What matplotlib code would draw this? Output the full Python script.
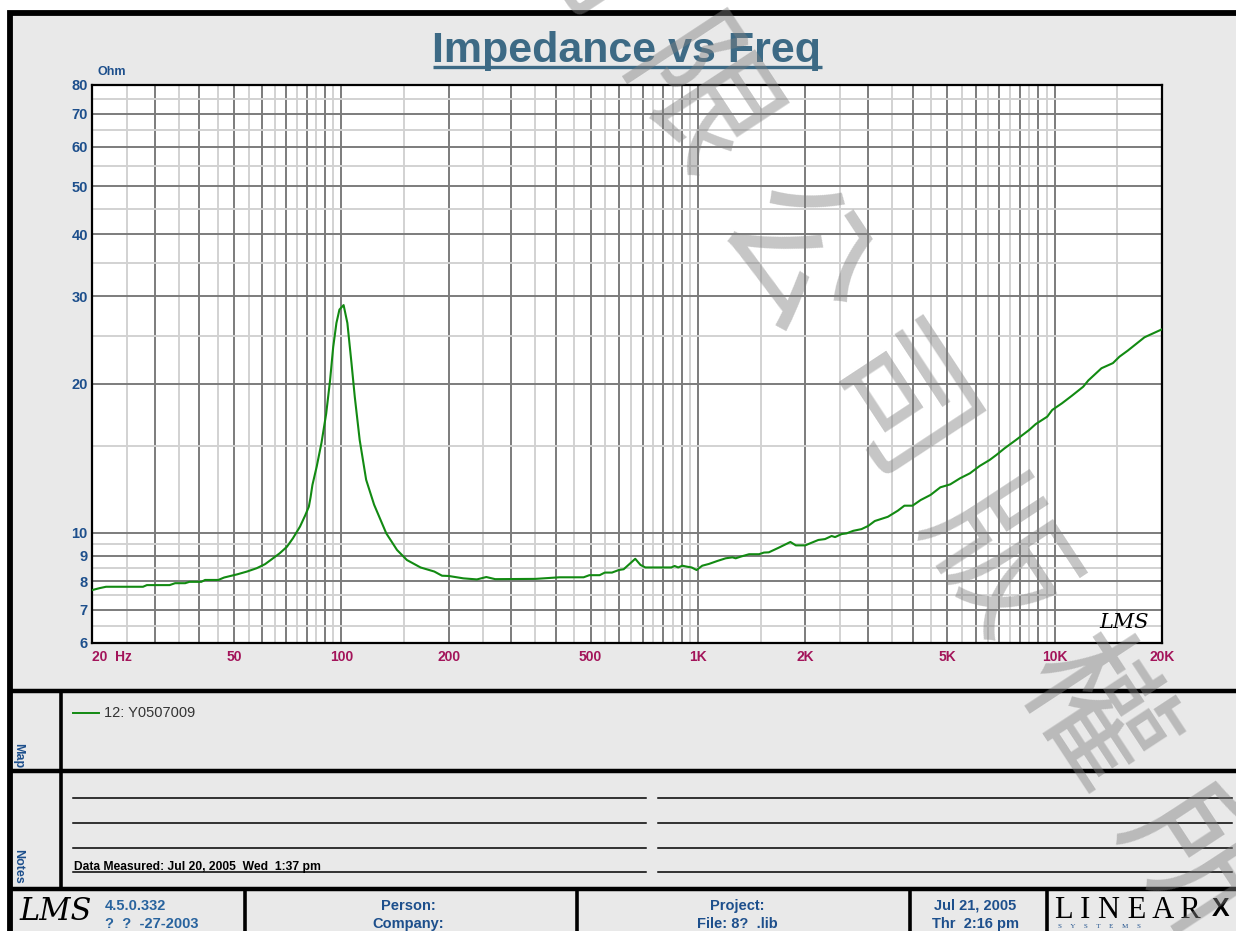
import matplotlib
matplotlib.use("Agg")

import numpy as np
import matplotlib.pyplot as plt
from matplotlib.patches import Rectangle
from matplotlib.ticker import FixedLocator, NullFormatter

W, H = 1236, 931

# impedance curve (Hz, Ohm)
freq_hz = [20, 21, 21.9, 27.8, 28.5, 33, 34.2, 36.5, 37.5, 40.5, 41.5, 45.2,
           46.9, 48.9, 51, 54.4, 57.9, 61.1, 63.8, 67.2, 70.4, 73.2, 76.6,
           79.3, 81.1, 82, 83, 85.3, 88, 90.7, 93, 94.9, 96.9, 98.8,
           101.5, 104, 106.8, 109.1, 112.6, 117.4, 123.6, 133.7, 143.3,
           152.7, 166.8, 182.3, 191.6, 200, 220, 240, 255, 270, 350, 409,
           478, 496, 530, 548, 574, 600, 619, 643, 667, 690, 712, 842, 860,
           880, 904, 932, 960, 991, 1028, 1073, 1133, 1196, 1249, 1276, 1318,
           1391, 1483, 1531, 1580, 1685, 1816, 1881, 1998, 2085, 2175, 2271,
           2370, 2423, 2529, 2610, 2725, 2874, 3000, 3132, 3408, 3634, 3791,
           3995, 4210, 4488, 4782, 5096, 5431, 5787, 6166, 6571, 6862, 7235,
           7793, 8484, 8854, 9537, 9846, 10490, 11180, 12030, 12430, 13530,
           14570, 15200, 16030, 17860, 20000]
impedance_ohm = [7.67, 7.74, 7.79, 7.79, 7.85, 7.85, 7.92, 7.92, 7.97, 7.97,
                 8.04, 8.04, 8.13, 8.19, 8.25, 8.36, 8.49, 8.65, 8.85, 9.10,
                 9.38, 9.76, 10.3, 10.87, 11.3, 11.8, 12.5, 13.6, 15.2, 17.4,
                 20.3, 23.7, 26.5, 28.2, 28.8, 26.5, 22.0, 18.8, 15.4, 12.8,
                 11.4, 9.98, 9.24, 8.82, 8.52, 8.36, 8.2, 8.19, 8.1, 8.06,
                 8.15, 8.07, 8.08, 8.14, 8.14, 8.22, 8.22, 8.32, 8.32, 8.42,
                 8.45, 8.66, 8.87, 8.62, 8.52, 8.52, 8.58, 8.52, 8.59, 8.55,
                 8.52, 8.42, 8.59, 8.66, 8.78, 8.89, 8.93, 8.89, 8.96, 9.06,
                 9.06, 9.13, 9.14, 9.34, 9.59, 9.44, 9.44, 9.56, 9.68, 9.72,
                 9.86, 9.81, 9.95, 9.98, 10.1, 10.18, 10.33, 10.57, 10.78,
                 11.09, 11.35, 11.35, 11.65, 11.93, 12.36, 12.53, 12.89,
                 13.19, 13.65, 14.03, 14.36, 14.81, 15.4, 16.13, 16.58, 17.16,
                 17.7, 18.26, 18.91, 19.72, 20.3, 21.48, 22.0, 22.67, 23.31,
                 24.8, 25.74]

x_major = (list(range(20, 101, 10)) + list(range(200, 1001, 100))
           + list(range(2000, 10001, 1000)) + [20000])
x_minor = (list(range(25, 100, 10)) + list(range(150, 1000, 100))
           + list(range(1500, 10000, 1000)) + [15000])
x_labels = {20: "20  Hz", 50: "50", 100: "100", 200: "200", 500: "500",
            1000: "1K", 2000: "2K", 5000: "5K", 10000: "10K", 20000: "20K"}
y_major = [6, 7, 8, 9, 10, 20, 30, 40, 50, 60, 70, 80]
y_minor = [6.5, 7.5, 8.5, 9.5, 15, 25, 35, 45, 55, 65, 75]

legend_name = "12: Y0507009"
measured = "Data Measured: Jul 20, 2005  Wed  1:37 pm"
watermark = "有限公司版權所有"

plt.rcParams["font.family"] = ["Liberation Sans", "DejaVu Sans"]

line_green = "#128a12"
tick_blue = "#1d4f8c"
tick_red = "#a3145a"
title_col = "#3d6a85"
panel = "#e9e9e9"

fig = plt.figure(figsize=(W / 100, H / 100), dpi=100)
fig.patch.set_facecolor("white")

# page background, frame, panels (pixel coordinates)
bg = fig.add_axes([0, 0, 1, 1], zorder=0)
bg.set_xlim(0, W)
bg.set_ylim(H, 0)
bg.axis("off")
bg.add_patch(Rectangle((9.5, 13), 1400, 1100, facecolor=panel,
                       edgecolor="black", lw=4.2))
for yy in (691, 771, 889):
    bg.plot([9.5, W + 5], [yy, yy], color="black", lw=3.2,
            solid_capstyle="butt")
bg.plot([61, 61], [691, 889], color="black", lw=2.6)
for xx in (245, 577, 910, 1047):
    bg.plot([xx, xx], [889, H + 5], color="black", lw=2.6)
for yy in (798, 823, 848, 872):
    bg.plot([73, 646], [yy, yy], color="black", lw=1.1)
    bg.plot([658, 1232], [yy, yy], color="black", lw=1.1)

title = bg.text(627, 62, "Impedance vs Freq", ha="center", va="baseline",
                fontsize=31, fontweight="bold", color=title_col)
bg.text(97, 72, "Ohm", ha="left", va="center", fontsize=9,
        fontweight="bold", color=tick_blue)

# map / notes blocks
bg.text(18, 756, "Map", rotation=-90, ha="center", va="center",
        fontsize=9, fontweight="bold", color=tick_blue)
bg.text(18, 866, "Notes", rotation=-90, ha="center", va="center",
        fontsize=9, fontweight="bold", color=tick_blue)
bg.plot([73, 99], [713, 713], color=line_green, lw=1.4)
bg.text(104, 713, legend_name, ha="left", va="center", fontsize=10.5,
        color="#333333")
bg.text(74, 867, measured, ha="left", va="center", fontsize=8.7,
        fontweight="bold", color="black")

# footer
bg.text(56, 912, "LMS", ha="center", va="center", fontsize=22,
        fontstyle="italic", family="DejaVu Serif", color="black")
bg.text(105, 906, "4.5.0.332", ha="left", va="center", fontsize=10.5,
        fontweight="bold", color="#28639e")
bg.text(105, 924, "?  ?  -27-2003", ha="left", va="center", fontsize=10.5,
        fontweight="bold", color="#28639e")
for cx, top_txt, bottom_txt in ((408, "Person:", "Company:"),
                                (737, "Project:", "File: 8?  .lib"),
                                (975, "Jul 21, 2005", "Thr  2:16 pm")):
    bg.text(cx, 906, top_txt, ha="center", va="center", fontsize=10.5,
            fontweight="bold", color=tick_blue)
    bg.text(cx, 924, bottom_txt, ha="center", va="center", fontsize=10.5,
            fontweight="bold", color=tick_blue)
bg.text(1055, 910, "L I N E A R", ha="left", va="center", fontsize=22,
        family="Liberation Serif", color="black")
bg.text(1221, 909, "X", ha="center", va="center", fontsize=19,
        fontweight="bold", color="black")
bg.text(1058, 927, "S     Y     S     T     E     M     S", ha="left",
        va="center", fontsize=5, family="Liberation Serif", color="#1d4f8c")

# impedance plot
ax = fig.add_axes([92 / W, (H - 643) / H, 1070 / W, 558 / H], zorder=1)
ax.set_facecolor("white")
ax.set_xscale("log")
ax.set_yscale("log")
ax.plot(freq_hz, impedance_ohm, color=line_green, lw=1.5, zorder=3)
ax.set_xlim(20, 20000)
ax.set_ylim(6, 80)

ax.xaxis.set_major_locator(FixedLocator(x_major))
ax.xaxis.set_minor_locator(FixedLocator(x_minor))
ax.xaxis.set_minor_formatter(NullFormatter())
ax.set_xticklabels([x_labels.get(v, "") for v in x_major])
ax.yaxis.set_major_locator(FixedLocator(y_major))
ax.yaxis.set_minor_locator(FixedLocator(y_minor))
ax.yaxis.set_minor_formatter(NullFormatter())
ax.set_yticklabels([str(v) for v in y_major])

ax.set_axisbelow(True)
ax.grid(which="minor", color="#d2d2d2", lw=1.4)
ax.grid(which="major", color="#7c7c7c", lw=1.4)
ax.tick_params(which="both", length=0)
ax.tick_params(axis="x", pad=5, labelsize=10, labelcolor=tick_red)
ax.tick_params(axis="y", pad=3, labelsize=10.5, labelcolor=tick_blue)
for lab in ax.get_xticklabels() + ax.get_yticklabels():
    lab.set_fontweight("bold")
ax.get_xticklabels()[0].set_ha("left")
for s in ax.spines.values():
    s.set_color("black")
    s.set_linewidth(1.6)

# overlay: small logo in the plot and the watermark
top = fig.add_axes([0, 0, 1, 1], zorder=5)
top.set_xlim(0, W)
top.set_ylim(H, 0)
top.axis("off")
top.patch.set_alpha(0)
top.text(1124, 622, "LMS", ha="center", va="center", fontsize=15,
         fontstyle="italic", family="DejaVu Serif", color="black")

# watermark characters laid out one by one along the diagonal
ang = np.deg2rad(56.7)
step = 182
cx, cy = 940, 488
n = len(watermark)
for i, ch in enumerate(watermark):
    k = i - (n - 1) / 2
    top.text(cx + k * step * np.cos(ang), cy + k * step * np.sin(ang), ch,
             ha="center", va="center", rotation=-56.7,
             rotation_mode="anchor", fontsize=104,
             family=["Noto Sans CJK TC", "DejaVu Sans"], color="#808080",
             alpha=0.45, clip_on=True)

# underline under the title
fig.canvas.draw()
bb = title.get_window_extent(fig.canvas.get_renderer())
inv = bg.transData.inverted()
(x0, _), (x1, _) = inv.transform([(bb.x0, bb.y0), (bb.x1, bb.y0)])
bg.plot([x0, x1], [67, 67], color=title_col, lw=2.4, solid_capstyle="butt")

fig.savefig("out.png", dpi=100)
